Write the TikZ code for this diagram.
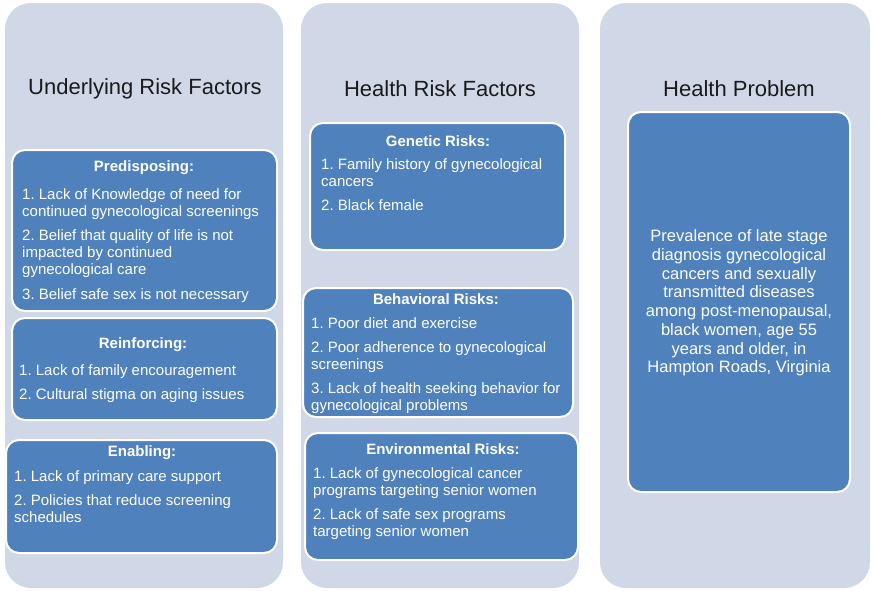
\documentclass[tikz,border=0pt]{standalone}
\usepackage{fontspec}
\setmainfont{Liberation Sans}
\usepackage{tikz}
\usetikzlibrary{positioning}
\frenchspacing
\definecolor{RPPanel}{HTML}{D0D8E8}
\definecolor{RPBlue}{HTML}{4F81BD}
\definecolor{RPInk}{HTML}{1A1A1A}
% light column behind each group
\newcommand{\riskpanel}[4]{%
  \fill[RPPanel, rounded corners=26] (#1,#2) rectangle ++(#3,#4);
}
% blue box with white rim
\newcommand{\riskbox}[4]{%
  \draw[draw=white, fill=RPBlue, line width=2pt, rounded corners=13]
    (#1,#2) rectangle ++(#3,#4);
}
\tikzset{
  coltitle/.style={text=RPInk, font=\fontsize{22}{26}\selectfont, inner sep=0pt},
  boxhead/.style={text=white, font=\bfseries\fontsize{15}{17}\selectfont, inner sep=0pt},
  boxtext/.style={text=white, font=\fontsize{15}{17}\selectfont, align=left,
    anchor=north west, inner sep=0pt},
}

\begin{document}
\begin{tikzpicture}[x=1pt,y=-1pt]
  \useasboundingbox (0,0) rectangle (871,590);
  \fill[white] (0,0) rectangle (871,590);

  \riskpanel{5}{3}{278}{585}
  \riskpanel{301}{3}{278}{585}
  \riskpanel{600}{3}{270}{585}

  \node[coltitle] (undertitle) at (145,89) {Underlying Risk Factors};
  \node[coltitle] (healthtitle) at (440,89) {Health Risk Factors};
  \node[coltitle] (problemtitle) at (739,89) {Health Problem};

  % underlying risk factors
  \riskbox{12}{150}{265}{161}
  \node[boxhead] (predhead) at (144,168) {Predisposing:};
  \node[boxtext] (predtext) at (22,188) {1. Lack of Knowledge of need for\\
    continued gynecological screenings\\[7.5pt]
    2. Belief that quality of life is not\\impacted by continued\\
    gynecological care\\[7.5pt]
    3. Belief safe sex is not necessary};

  \riskbox{12}{318}{265}{102}
  \node[boxhead] (reinhead) at (143,345) {Reinforcing:};
  \node[boxtext] (reintext) at (19,364) {1. Lack of family encouragement\\[7pt]
    2. Cultural stigma on aging issues};

  \riskbox{6}{440}{271}{113}
  \node[boxhead] (enabhead) at (142,453) {Enabling:};
  \node[boxtext] (enabtext) at (14,470) {1. Lack of primary care support\\[7pt]
    2. Policies that reduce screening\\schedules};

  % health risk factors
  \riskbox{310}{123}{255}{127}
  \node[boxhead] (genhead) at (438,141) {Genetic Risks:};
  \node[boxtext] (gentext) at (321,158) {1. Family history of gynecological\\
    cancers\\[7pt]2. Black female};

  \riskbox{303}{288}{270}{129}
  \node[boxhead] (behavhead) at (436,299) {Behavioral Risks:};
  \node[boxtext] (behavtext) at (311,317) {1. Poor diet and exercise\\[7pt]
    2. Poor adherence to gynecological\\screenings\\[7pt]
    3. Lack of health seeking behavior for\\gynecological problems};

  \riskbox{305}{433}{273}{127}
  \node[boxhead] (envhead) at (443,449) {Environmental Risks:};
  \node[boxtext] (envtext) at (313,467) {1. Lack of gynecological cancer\\
    programs targeting senior women\\[7pt]
    2. Lack of safe sex programs\\targeting senior women};

  % health problem
  \riskbox{628}{112}{222}{380}
  \node[text=white, font=\fontsize{16.5}{18.7}\selectfont, align=center,
    inner sep=0pt] (problemtext) at (739,303) {Prevalence of late stage\\
    diagnosis gynecological\\cancers and sexually\\transmitted diseases\\
    among post-menopausal,\\black women, age 55\\years and older, in\\
    Hampton Roads, Virginia};
\end{tikzpicture}
\end{document}
